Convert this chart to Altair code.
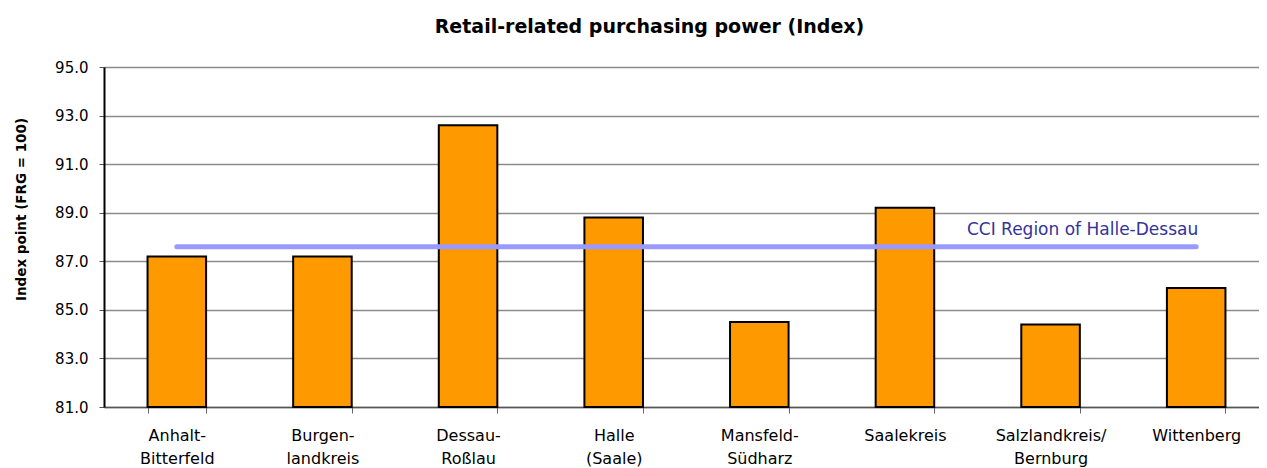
import altair as alt
import pandas as pd

categories = [
    "Anhalt-\nBitterfeld",
    "Burgen-\nlandkreis",
    "Dessau-\nRoßlau",
    "Halle\n(Saale)",
    "Mansfeld-\nSüdharz",
    "Saalekreis",
    "Salzlandkreis/\nBernburg",
    "Wittenberg",
]
values = [87.2, 87.2, 92.6, 88.8, 84.5, 89.2, 84.4, 85.9]
region_value = 87.6
region_label = "CCI Region of Halle-Dessau"
y_ticks = [81, 83, 85, 87, 89, 91, 93, 95]
y_base = 81

df = pd.DataFrame({"cat": categories, "val": values})
df_line = pd.DataFrame({"cat": categories, "val": [region_value] * len(categories)})
df_text = pd.DataFrame({"cat": [categories[-1]], "val": [region_value], "label": [region_label]})

FONT = "DejaVu Sans"

x_scale = alt.Scale(paddingInner=0.598, paddingOuter=0.299, round=False, range=[0, 1165])

x_enc = alt.X(
    "cat:N",
    sort=None,
    title=None,
    scale=x_scale,
    axis=alt.Axis(
        labelExpr="split(datum.label, '\\n')",
        labelAngle=0,
        labelFontSize=16,
        labelColor="black",
        labelFont=FONT,
        labelLineHeight=23,
        labelPadding=14,
        tickBand="extent",
        tickSize=6,
        tickColor="#666666",
        domainColor="#555555",
        domainWidth=1.5,
        grid=False,
    ),
)
y_scale = alt.Scale(domain=[81, 95], zero=False, nice=False)

bars = alt.Chart(df).mark_bar(
    color="#ff9900", stroke="black", strokeWidth=2
).encode(
    x=x_enc,
    y=alt.Y(
        "val:Q",
        scale=y_scale,
        title="Index point (FRG = 100)",
        axis=alt.Axis(
            values=y_ticks,
            format=".1f",
            labelFontSize=15,
            labelColor="black",
            labelFont=FONT,
            labelPadding=11,
            tickSize=5,
            tickColor="#555555",
            domainColor="black",
            domainWidth=2,
            gridColor="#8c8c8c",
            gridWidth=1.3,
            titleFontSize=13.5,
            titleFont=FONT,
            titleFontWeight="bold",
            titleColor="black",
            titleX=-76,
            titleY=142,
        ),
    ),
    y2=alt.datum(y_base),
)

line = alt.Chart(df_line).mark_line(
    color="#9999ff", strokeWidth=5, strokeCap="round"
).encode(
    x=alt.X("cat:N", sort=None, scale=x_scale),
    y=alt.Y("val:Q", scale=y_scale),
)

text = alt.Chart(df_text).mark_text(
    align="right", baseline="bottom", dx=2, dy=-8, fontSize=17, color="#333399", font=FONT
).encode(
    x=alt.X("cat:N", sort=None, scale=x_scale),
    y=alt.Y("val:Q", scale=y_scale),
    text="label:N",
)

chart = alt.layer(bars, line, text).properties(
    width=1155,
    height=340,
    title=alt.TitleParams(
        "Retail-related purchasing power (Index)",
        fontSize=19,
        font=FONT,
        fontWeight="bold",
        color="black",
        offset=23,
        anchor="middle",
        dx=-32,
    ),
    autosize=alt.AutoSizeParams(type="none"),
    padding={"left": 96, "top": 59, "right": 0, "bottom": 61},
).configure_view(stroke=None)

chart.save("out.html", embed_options={"renderer": "svg", "actions": False})
